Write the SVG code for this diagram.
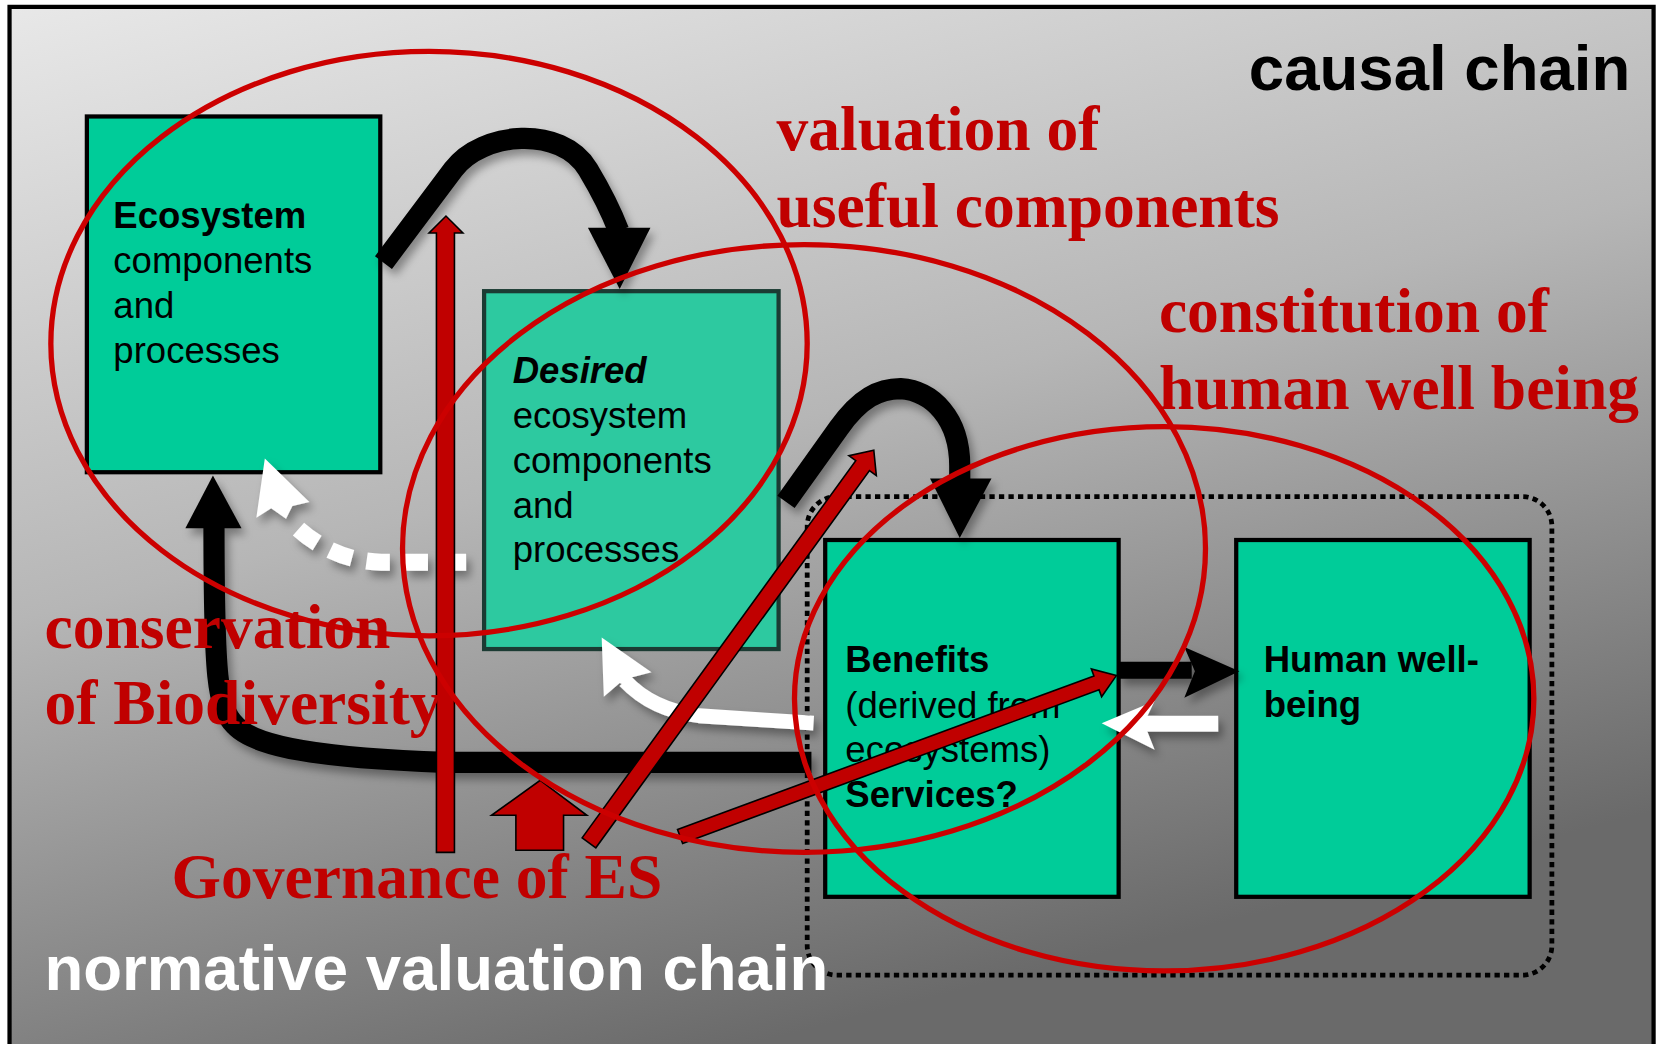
<svg xmlns="http://www.w3.org/2000/svg" width="1661" height="1044" viewBox="0 0 1661 1044">
<defs>
<linearGradient id="bg" x1="0" y1="0" x2="0.4" y2="1">
<stop offset="0" stop-color="#e8e8e8"/>
<stop offset="0.5" stop-color="#b6b6b6"/>
<stop offset="1" stop-color="#6a6a6a"/>
</linearGradient>
<filter id="sh" x="-20%" y="-20%" width="140%" height="140%">
<feDropShadow dx="4" dy="6" stdDeviation="4" flood-color="#000" flood-opacity="0.35"/>
</filter>
</defs>
<style>
.box{stroke:#000;stroke-width:4}
.box1{fill:#00cc99}
.box2{fill:#2dc9a0;stroke:#1b3b33}
.bt{font-family:"Liberation Sans",Arial,sans-serif;font-size:34.5px;fill:#000}
.b{font-weight:bold}
.lbl{font-family:"Liberation Serif","Times New Roman",serif;font-weight:bold;font-size:60px;fill:#c00000}
.ell{fill:none;stroke:#cc0000;stroke-width:5}
.blk{fill:none;stroke:#000;stroke-width:20}
.wht{fill:none;stroke:#fff}
.ra{fill:#c00000;stroke:#000;stroke-width:1.5}
.big{font-family:"Liberation Sans",Arial,sans-serif;font-weight:bold;font-size:60px}
</style>
<rect x="0" y="0" width="1661" height="1044" fill="#fff"/>
<g transform="scale(1.05931 1.05882)">
<rect id="frame" x="9" y="6.5" width="1552" height="1000" fill="url(#bg)" stroke="#000" stroke-width="4"/>

<rect id="group-boundary" x="762" y="469" width="703" height="452" rx="28" fill="none" stroke="#000" stroke-width="4.5" stroke-dasharray="5 4"/>

<g id="node-ecosystem">
<rect class="box box1" x="82" y="110" width="277" height="336"/>
<text class="bt" x="107" y="215"><tspan class="b">Ecosystem</tspan><tspan x="107" y="258">components</tspan><tspan x="107" y="300">and</tspan><tspan x="107" y="343">processes</tspan></text>
</g>

<g id="node-desired">
<rect class="box box2" x="457" y="275" width="278" height="338"/>
<text class="bt" x="484" y="362"><tspan class="b" font-style="italic">Desired</tspan><tspan x="484" y="404">ecosystem</tspan><tspan x="484" y="447">components</tspan><tspan x="484" y="489">and</tspan><tspan x="484" y="531">processes</tspan></text>
</g>

<g id="node-benefits">
<rect class="box box1" x="779" y="510" width="277" height="337"/>
<text class="bt" x="798" y="635"><tspan class="b">Benefits</tspan><tspan x="798" y="678">(derived from</tspan><tspan x="798" y="720">ecosystems)</tspan><tspan class="b" x="798" y="762">Services?</tspan></text>
</g>

<g id="node-human">
<rect class="box box1" x="1167" y="510" width="277" height="337"/>
<text class="bt b" x="1193" y="635">Human well-<tspan x="1193" y="677">being</tspan></text>
</g>

<g id="connectors">
<g filter="url(#sh)">
<path class="blk" d="M362,248 L428,160 C455,124 530,118 555,160 C570,185 579,205 584,218"/>
<polygon points="555,215 614,215 585,273" fill="#000"/>
<path class="blk" d="M742,474 L792,404 C812,376 830,367 850,367 C880,369 906,395 906,440 L906,454"/>
<polygon points="878,452 936,452 906,508" fill="#000"/>
<path d="M1056,633 L1125,633" fill="none" stroke="#000" stroke-width="16"/>
<polygon points="1118,611 1170,634 1118,659 1128,634" fill="#000"/>
<path class="blk" d="M766,720 L420,720 C300,716 240,705 222,685 C205,668 202,640 202,495"/>
<polygon points="175,499 228,499 201,449" fill="#000"/>
<path class="wht" stroke-width="16" stroke-dasharray="22 14" d="M440,531 L360,531 C322,530 292,512 272,490"/>
<polygon points="250,433 292,474 276,478 270,490 256,480 242,489" fill="#fff"/>
<path class="wht" stroke-width="14" d="M768,683 L660,676 C628,672 606,660 590,643"/>
<polygon points="568,602 615,635 595,640 600,652 585,645 570,658" fill="#fff"/>
<rect x="1075" y="676" width="75" height="15" fill="#fff"/>
<polygon points="1040,683 1090,662 1080,683 1090,708" fill="#fff"/>
</g>
<polygon class="ra" points="412,805 429,805 429,220 437,220 421,204 405,220 412,220"/>
<path class="ra" transform="translate(556 796) rotate(-54.05)" d="M0,-8 H440 V-16 L458,0 L440,16 V8 H0 Z"/>
<path class="ra" transform="translate(642 790) rotate(-20.25)" d="M0,-7 H419 V-14 L439,0 L419,14 V7 H0 Z"/>
<polygon class="ra" points="510,737 554,770 532,770 532,803 487,803 487,770 464,770"/>
</g>

<g id="ellipses">
<ellipse class="ell" cx="405" cy="324.5" rx="357" ry="276"/>
<ellipse class="ell" cx="759" cy="518" rx="379" ry="287"/>
<ellipse class="ell" cx="1099" cy="660" rx="349" ry="257"/>
</g>

<g id="labels">
<text class="lbl" x="733" y="142">valuation of</text>
<text class="lbl" x="733" y="214">useful components</text>
<text class="lbl" x="1094" y="314">constitution of</text>
<text class="lbl" x="1094" y="386">human well being</text>
<text class="lbl" x="42" y="612">conservation</text>
<text class="lbl" x="42" y="684">of Biodiversity</text>
<text class="lbl" x="162" y="848">Governance of ES</text>
<text class="big" x="1539" y="85" text-anchor="end" fill="#000">causal chain</text>
<text class="big" x="42" y="935" fill="#fff">normative valuation chain</text>
</g>
</g>
</svg>
